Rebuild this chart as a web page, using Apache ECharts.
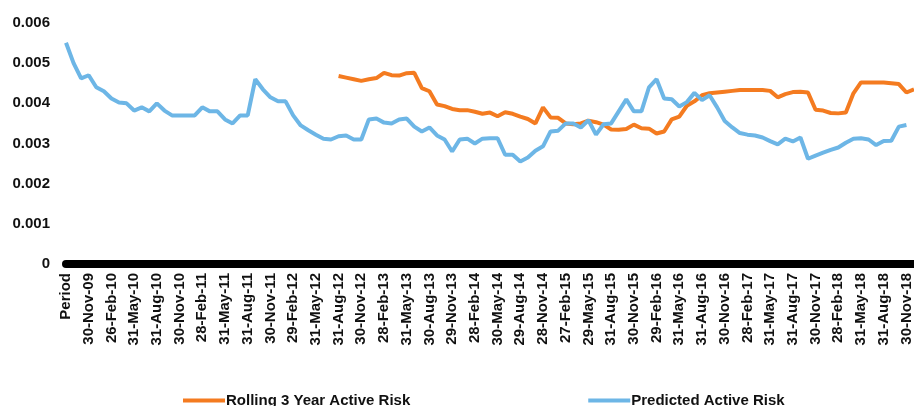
<!DOCTYPE html>
<html>
<head>
<meta charset="utf-8">
<title>Active Risk</title>
<script src="https://cdn.jsdelivr.net/npm/echarts@6/dist/echarts.min.js"></script>
<style>
  html, body { margin: 0; padding: 0; background: #fff; }
  #chart { width: 914px; height: 406px; }
</style>
</head>
<body>
<div id="chart"></div>
<script>
// month-end periods, first entry is the header row of the source table
const periods = [
  'Period',
  '30-Sep-09', '30-Oct-09', '30-Nov-09', '31-Dec-09',
  '29-Jan-10', '26-Feb-10', '31-Mar-10', '30-Apr-10', '31-May-10', '30-Jun-10',
  '30-Jul-10', '31-Aug-10', '30-Sep-10', '29-Oct-10', '30-Nov-10', '31-Dec-10',
  '31-Jan-11', '28-Feb-11', '31-Mar-11', '29-Apr-11', '31-May-11', '30-Jun-11',
  '29-Jul-11', '31-Aug-11', '30-Sep-11', '31-Oct-11', '30-Nov-11', '30-Dec-11',
  '31-Jan-12', '29-Feb-12', '30-Mar-12', '30-Apr-12', '31-May-12', '29-Jun-12',
  '31-Jul-12', '31-Aug-12', '28-Sep-12', '31-Oct-12', '30-Nov-12', '31-Dec-12',
  '31-Jan-13', '28-Feb-13', '29-Mar-13', '30-Apr-13', '31-May-13', '28-Jun-13',
  '31-Jul-13', '30-Aug-13', '30-Sep-13', '31-Oct-13', '29-Nov-13', '31-Dec-13',
  '31-Jan-14', '28-Feb-14', '31-Mar-14', '30-Apr-14', '30-May-14', '30-Jun-14',
  '31-Jul-14', '29-Aug-14', '30-Sep-14', '31-Oct-14', '28-Nov-14', '31-Dec-14',
  '30-Jan-15', '27-Feb-15', '31-Mar-15', '30-Apr-15', '29-May-15', '30-Jun-15',
  '31-Jul-15', '31-Aug-15', '30-Sep-15', '30-Oct-15', '30-Nov-15', '31-Dec-15',
  '29-Jan-16', '29-Feb-16', '31-Mar-16', '29-Apr-16', '31-May-16', '30-Jun-16',
  '29-Jul-16', '31-Aug-16', '30-Sep-16', '31-Oct-16', '30-Nov-16', '30-Dec-16',
  '31-Jan-17', '28-Feb-17', '31-Mar-17', '28-Apr-17', '31-May-17', '30-Jun-17',
  '31-Jul-17', '31-Aug-17', '29-Sep-17', '31-Oct-17', '30-Nov-17', '29-Dec-17',
  '31-Jan-18', '28-Feb-18', '30-Mar-18', '30-Apr-18', '31-May-18', '29-Jun-18',
  '31-Jul-18', '31-Aug-18', '28-Sep-18', '31-Oct-18', '30-Nov-18', '31-Dec-18'
];

// Predicted Active Risk, from 'Period' onwards
const predicted = [
  0.00551, 0.00500, 0.00462, 0.00470, 0.00440, 0.00430, 0.00412, 0.00402, 0.00400, 0.00382,
  0.00390, 0.00380, 0.00400, 0.00382, 0.00370, 0.00370, 0.00370, 0.00370, 0.00390, 0.00380,
  0.00380, 0.00360, 0.00350, 0.00370, 0.00370, 0.00460, 0.00435, 0.00415, 0.00405, 0.00405,
  0.00370, 0.00345, 0.00333, 0.00322, 0.00312, 0.00310, 0.00318, 0.00320, 0.00310, 0.00310,
  0.00360, 0.00362, 0.00352, 0.00350, 0.00360, 0.00362, 0.00342, 0.00330, 0.00340, 0.00320,
  0.00310, 0.00280, 0.00310, 0.00312, 0.00300, 0.00312, 0.00313, 0.00313, 0.00272, 0.00272,
  0.00255, 0.00265, 0.00282, 0.00293, 0.00330, 0.00332, 0.00350, 0.00350, 0.00340, 0.00358,
  0.00322, 0.00348, 0.00350, 0.00380, 0.00410, 0.00380, 0.00380, 0.00440, 0.00460, 0.00412,
  0.00410, 0.00392, 0.00403, 0.00426, 0.00408, 0.00420, 0.00390, 0.00356, 0.00340, 0.00326,
  0.00322, 0.00320, 0.00315, 0.00306, 0.00298, 0.00312, 0.00305, 0.00315, 0.00262, 0.00270,
  0.00277, 0.00284, 0.00290, 0.00302, 0.00312, 0.00313, 0.00310, 0.00296, 0.00306, 0.00307,
  0.00342, 0.00346
];

// Rolling 3 Year Active Risk, starts at 31-Aug-12
const rollingStart = 36;
const rolling = [
  0.00468, 0.00464, 0.00460, 0.00456, 0.00460, 0.00463, 0.00476, 0.00470, 0.00469, 0.00475,
  0.00476, 0.00438, 0.00430, 0.00397, 0.00393, 0.00386, 0.00383, 0.00383, 0.00379, 0.00374,
  0.00377, 0.00368, 0.00378, 0.00374, 0.00367, 0.00361, 0.00350, 0.00390, 0.00365, 0.00364,
  0.00350, 0.00348, 0.00350, 0.00357, 0.00353, 0.00347, 0.00335, 0.00334, 0.00336, 0.00347,
  0.00338, 0.00337, 0.00325, 0.00330, 0.00360, 0.00367, 0.00394, 0.00405, 0.00420, 0.00425,
  0.00427, 0.00429, 0.00431, 0.00433, 0.00433, 0.00433, 0.00433, 0.00431, 0.00415, 0.00423,
  0.00428, 0.00429, 0.00427, 0.00384, 0.00382, 0.00376, 0.00375, 0.00377, 0.00425, 0.00452,
  0.00452, 0.00452, 0.00452, 0.00450, 0.00448, 0.00427, 0.00435
];

const yTicks = [0, 0.001, 0.002, 0.003, 0.004, 0.005, 0.006];

const seriesNames = ['Rolling 3 Year Active Risk', 'Predicted Active Risk'];
const seriesColors = ['#f47b20', '#6db6e6'];

const font = '"Liberation Sans", Arial, sans-serif';

const rollingData = new Array(rollingStart).fill(null).concat(rolling);
const predictedData = predicted.concat(new Array(periods.length - predicted.length).fill(null));

const chart = echarts.init(document.getElementById('chart'), null, { renderer: 'canvas' });

chart.setOption({
  backgroundColor: '#fff',
  animation: false,
  textStyle: { fontFamily: font },
  grid: { left: 66, right: -1, top: 23, bottom: 142, containLabel: false },
  legend: {
    left: 178,
    top: 388,
    itemGap: 178,
    itemWidth: 42,
    itemHeight: 4,
    icon: 'rect',
    textStyle: { fontFamily: font, fontWeight: 'bold', fontSize: 15, color: '#111', padding: [0, 0, 0, -4] },
    data: seriesNames
  },
  xAxis: {
    type: 'category',
    data: periods,
    boundaryGap: false,
    axisLine: { lineStyle: { color: '#000', width: 8 } },
    axisTick: { show: false },
    axisLabel: {
      interval: 2,
      rotate: 90,
      margin: 9,
      fontFamily: font,
      fontWeight: 'bold',
      fontSize: 15,
      color: '#111'
    },
    splitLine: { show: false }
  },
  yAxis: {
    type: 'value',
    min: yTicks[0],
    max: yTicks[yTicks.length - 1],
    interval: 0.001,
    axisLine: { show: false },
    axisTick: { show: false },
    splitLine: { show: false },
    axisLabel: {
      margin: 16,
      fontFamily: font,
      fontWeight: 'bold',
      fontSize: 15,
      color: '#111'
    }
  },
  series: [
    {
      name: seriesNames[0],
      type: 'line',
      data: rollingData,
      symbol: 'none',
      color: seriesColors[0],
      lineStyle: { width: 4, color: seriesColors[0] }
    },
    {
      name: seriesNames[1],
      type: 'line',
      data: predictedData,
      symbol: 'none',
      color: seriesColors[1],
      lineStyle: { width: 4, color: seriesColors[1] }
    }
  ]
});
</script>
</body>
</html>
